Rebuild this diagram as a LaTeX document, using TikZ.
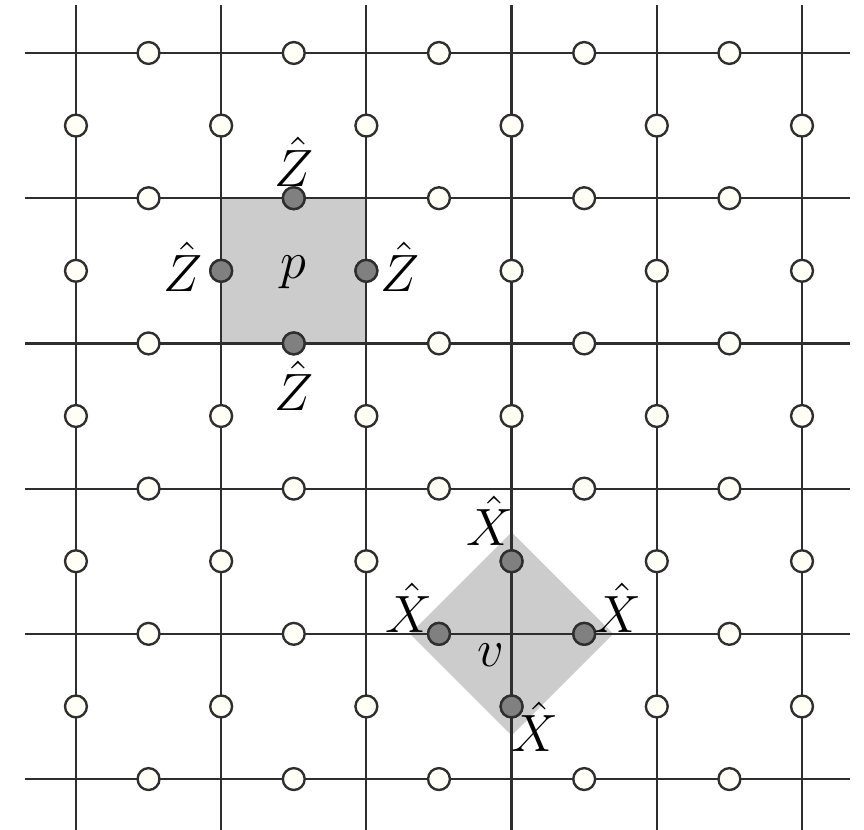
\documentclass[tikz,border=0pt]{standalone}
\usepackage{amsmath}
\usepackage{amssymb}
\usetikzlibrary{positioning}

\definecolor{shadegray}{HTML}{CCCCCC}
\definecolor{darkqubit}{HTML}{808080}
\definecolor{paperwhite}{HTML}{FFFFF7}
\definecolor{linegray}{HTML}{2E2E2E}

\tikzset{
  gridline/.style={linegray, line width=0.6pt},
  qubit/.style={circle, draw=linegray, line width=0.65pt, fill=paperwhite, minimum size=6pt, inner sep=0pt},
  actqubit/.style={qubit, fill=darkqubit},
  opshade/.style={fill=shadegray, draw=none},
  oplabel/.style={inner sep=0pt, font=\Large}
}

\begin{document}
\begin{tikzpicture}[x=1.4cm, y=1.4cm]
	\useasboundingbox (-0.523,-0.344) rectangle (5.427,5.365);

	% plaquette and star
	\coordinate (p1) at (1,3);
	\coordinate (p2) at (2,4);
	\fill[opshade] (p1) rectangle (p2);
	\coordinate (vx) at (3,1);
	\fill[opshade] (3,1.7) -- (3.7,1) -- (3,0.3) -- (2.3,1) -- cycle;

	% lattice
	\foreach \i in {0,...,5} {
		\coordinate (h\i w) at (-0.35,\i);
		\coordinate (h\i e) at (5.33,\i);
		\draw[gridline] (h\i w) -- (h\i e);
		\coordinate (v\i s) at (\i,-0.35);
		\coordinate (v\i n) at (\i,5.33);
		\draw[gridline] (v\i s) -- (v\i n);
	}

	% qubits on the edges
	\foreach \i in {0,...,5} {
		\foreach \k in {0,...,4} {
			\node[qubit] (qh\i\k) at (\k+0.5,\i) {};
			\node[qubit] (qv\i\k) at (\i,\k+0.5) {};
		}
	}

	% acted-on qubits
	\node[actqubit] (zn) at (1.5,4) {};
	\node[actqubit] (zs) at (1.5,3) {};
	\node[actqubit] (zw) at (1,3.5) {};
	\node[actqubit] (ze) at (2,3.5) {};
	\node[actqubit] (xn) at (3,1.5) {};
	\node[actqubit] (xs) at (3,0.5) {};
	\node[actqubit] (xw) at (2.5,1) {};
	\node[actqubit] (xe) at (3.5,1) {};

	% labels
	\node[oplabel] (lzn) at (1.5,4.25) {$\hat{Z}$};
	\node[oplabel] (lzs) at (1.5,2.71) {$\hat{Z}$};
	\node[oplabel] (lzw) at (0.74,3.53) {$\hat{Z}$};
	\node[oplabel] (lze) at (2.23,3.53) {$\hat{Z}$};
	\node[oplabel] (lp) at (1.5,3.49) {$p$};
	\node[oplabel] (lxn) at (2.85,1.78) {$\hat{X}$};
	\node[oplabel] (lxw) at (2.29,1.18) {$\hat{X}$};
	\node[oplabel] (lxe) at (3.73,1.18) {$\hat{X}$};
	\node[oplabel] (lxs) at (3.16,0.36) {$\hat{X}$};
	\node[oplabel] (lv) at (2.86,0.85) {$v$};
\end{tikzpicture}
\end{document}
